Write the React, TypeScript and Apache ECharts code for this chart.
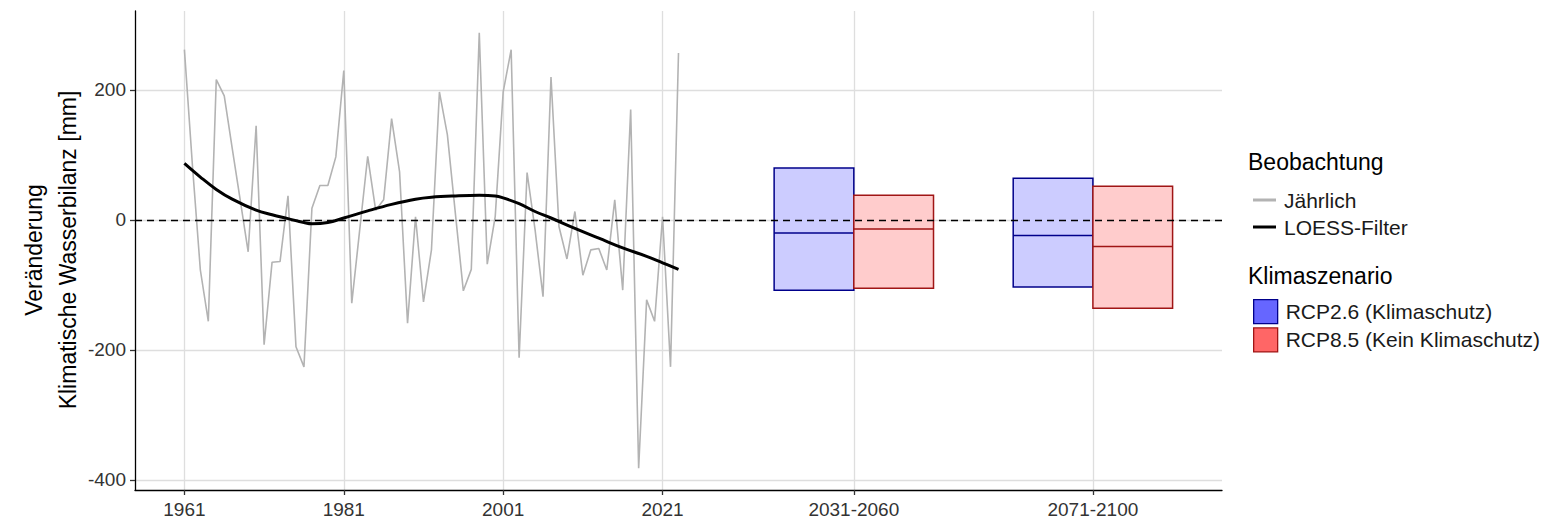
import React, { useEffect, useRef } from 'react';
import * as echarts from 'echarts';

const FONT = '"Liberation Sans", Arial, Helvetica, sans-serif';

// Observed annual values (1961-2023)
const years = [
  1961, 1962, 1963, 1964, 1965, 1966, 1967, 1968, 1969, 1970,
  1971, 1972, 1973, 1974, 1975, 1976, 1977, 1978, 1979, 1980,
  1981, 1982, 1983, 1984, 1985, 1986, 1987, 1988, 1989, 1990,
  1991, 1992, 1993, 1994, 1995, 1996, 1997, 1998, 1999, 2000,
  2001, 2002, 2003, 2004, 2005, 2006, 2007, 2008, 2009, 2010,
  2011, 2012, 2013, 2014, 2015, 2016, 2017, 2018, 2019, 2020,
  2021, 2022, 2023,
];
const annual = [
  262, 85, -77, -156, 216, 191, 110, 31, -49, 145,
  -192, -65, -64, 37, -195, -226, 18, 53, 53, 97,
  230, -128, -15, 98, 15, 31, 156, 74, -159, 5,
  -126, -46, 197, 131, 10, -109, -76, 288, -68, 5,
  197, 262, -212, 73, -15, -118, 220, -10, -60, 13,
  -85, -46, -44, -77, 31, -108, 170, -382, -123, -156,
  5, -226, 257,
];

// LOESS filter read-offs
const loessYears = [1961, 1963, 1965, 1967, 1970, 1972, 1974, 1976, 1977, 1979, 1981, 1984, 1987, 1990, 1992, 1995, 1998, 2000, 2001, 2003, 2005, 2007, 2010, 2013, 2016, 2019, 2021, 2023];
const loessValues = [87, 66, 47, 32, 15, 8, 2, -4, -6, -4, 3, 14, 24, 32, 35, 37, 38, 37, 34, 25, 13, 3, -13, -28, -43, -56, -66, -76];

// Scenario periods
const periodLabels = ['2031-2060', '2071-2100'];
const periodCenters = [2045, 2075];
const rcp26Lower = [-108, -103];
const rcp26Median = [-20, -24];
const rcp26Upper = [80, 64];
const rcp85Lower = [-105, -136];
const rcp85Median = [-14, -41];
const rcp85Upper = [38, 52];

const yTicks = [-400, -200, 0, 200];
const xTicks = [1961, 1981, 2001, 2021, ...periodCenters];

const BOX_W = 10;

function makeBoxSeries(name: string, lower: number[], median: number[], upper: number[], offset: number, fill: string, stroke: string, legendFill: string) {
  return {
    name,
    type: 'custom',
    z: 2,
    itemStyle: { color: legendFill, borderColor: stroke },
    encode: { x: 0, y: [1, 2, 3] },
    data: periodCenters.map((c, i) => [c, lower[i], median[i], upper[i]]),
    renderItem: (params: any, api: any) => {
      const xc = api.value(0);
      const lo = api.value(1);
      const med = api.value(2);
      const hi = api.value(3);
      const xl = xc + offset;
      const xr = xl + BOX_W;
      const p1 = api.coord([xl, hi]);
      const p2 = api.coord([xr, lo]);
      const m1 = api.coord([xl, med]);
      const m2 = api.coord([xr, med]);
      return {
        type: 'group',
        children: [
          {
            type: 'rect',
            shape: { x: p1[0], y: p1[1], width: p2[0] - p1[0], height: p2[1] - p1[1] },
            style: { fill, stroke, lineWidth: 1.5 },
          },
          {
            type: 'line',
            shape: { x1: m1[0], y1: m1[1], x2: m2[0], y2: m2[1] },
            style: { stroke, lineWidth: 1.5 },
          },
        ],
      };
    },
  };
}

export default function App() {
  const ref = useRef<HTMLDivElement>(null);
  useEffect(() => {
    if (!ref.current) return;
    const chart = echarts.init(ref.current, undefined, { renderer: 'svg' });
    const labelMap: Record<number, string> = {};
    periodCenters.forEach((c, i) => { labelMap[c] = periodLabels[i]; });

    const option: any = {
      animation: false,
      textStyle: { fontFamily: FONT },
      grid: { left: 135, top: 11, width: 1087, height: 479 },
      xAxis: {
        type: 'value',
        min: 1954.8,
        max: 2091.2,
        axisLine: { show: true, onZero: false, lineStyle: { color: '#000', width: 1.3 } },
        axisTick: { show: true, length: 5, customValues: xTicks, lineStyle: { color: '#333', width: 1.3 } },
        axisLabel: {
          customValues: xTicks,
          formatter: (v: number) => labelMap[v] ?? String(v),
          fontSize: 19,
          color: '#333',
          margin: 10,
          fontFamily: FONT,
        },
        splitLine: { show: true, lineStyle: { color: '#dedede', width: 1.3 } },
      },
      yAxis: {
        type: 'value',
        min: -415.5,
        max: 321.5,
        axisLine: { show: true, onZero: false, lineStyle: { color: '#000', width: 1.3 } },
        axisTick: { show: true, length: 5, customValues: yTicks, lineStyle: { color: '#333', width: 1.3 } },
        axisLabel: { customValues: yTicks, fontSize: 19, color: '#333', margin: 9, fontFamily: FONT },
        splitLine: { show: true, lineStyle: { color: '#dedede', width: 1.3 } },
      },
      legend: [
        {
          data: [{ name: 'Jährlich' }, { name: 'LOESS-Filter' }],
          orient: 'vertical',
          left: 1248,
          top: 183,
          itemWidth: 23,
          itemHeight: 3,
          itemGap: 3,
          icon: 'rect',
          selectedMode: false,
          textStyle: { fontSize: 21, lineHeight: 24, color: '#1a1a1a', padding: [0, 0, 0, 3], fontFamily: FONT },
        },
        {
          data: [
            { name: 'RCP2.6 (Klimaschutz)', itemStyle: { color: '#6666ff', borderColor: '#00008b', borderWidth: 1.3 } },
            { name: 'RCP8.5 (Kein Klimaschutz)', itemStyle: { color: '#ff6666', borderColor: '#a01515', borderWidth: 1.3 } },
          ],
          orient: 'vertical',
          left: 1248,
          top: 294,
          itemWidth: 24,
          itemHeight: 24,
          itemGap: 3,
          icon: 'rect',
          selectedMode: false,
          textStyle: { fontSize: 21, lineHeight: 24, color: '#1a1a1a', padding: [0, 0, 0, 3], fontFamily: FONT },
        },
      ],
      graphic: [
        {
          type: 'text', x: 34, y: 250, rotation: Math.PI / 2,
          style: { text: 'Veränderung', font: `23px ${FONT}`, fill: '#000', align: 'center', verticalAlign: 'middle' },
        },
        {
          type: 'text', x: 68, y: 250, rotation: Math.PI / 2,
          style: { text: 'Klimatische Wasserbilanz [mm]', font: `23px ${FONT}`, fill: '#000', align: 'center', verticalAlign: 'middle' },
        },
        {
          type: 'text', x: 1248, y: 162,
          style: { text: 'Beobachtung', font: `23px ${FONT}`, fill: '#000', align: 'left', verticalAlign: 'middle' },
        },
        {
          type: 'text', x: 1248, y: 276,
          style: { text: 'Klimaszenario', font: `23px ${FONT}`, fill: '#000', align: 'left', verticalAlign: 'middle' },
        },
      ],
      series: [
        makeBoxSeries('RCP2.6 (Klimaschutz)', rcp26Lower, rcp26Median, rcp26Upper, -BOX_W, '#ccccff', '#00008b', '#6666ff'),
        makeBoxSeries('RCP8.5 (Kein Klimaschutz)', rcp85Lower, rcp85Median, rcp85Upper, 0, '#ffcccc', '#a01515', '#ff6666'),
        {
          name: 'Jährlich',
          type: 'line',
          z: 3,
          color: '#b3b3b3',
          symbol: 'none',
          data: years.map((y, i) => [y, annual[i]]),
          lineStyle: { color: '#b3b3b3', width: 1.6 },
          markLine: {
            silent: true,
            symbol: 'none',
            label: { show: false },
            lineStyle: { color: '#000', type: [7, 5], width: 1.4 },
            data: [{ yAxis: 0 }],
          },
        },
        {
          name: 'LOESS-Filter',
          type: 'line',
          z: 4,
          color: '#000',
          symbol: 'none',
          smooth: 0.4,
          data: loessYears.map((y, i) => [y, loessValues[i]]),
          lineStyle: { color: '#000', width: 3 },
        },
      ],
    };
    chart.setOption(option);
    return () => chart.dispose();
  }, []);
  return <div ref={ref} style={{ position: 'absolute', left: 0, top: 0, width: 1544, height: 520 }} />;
}
